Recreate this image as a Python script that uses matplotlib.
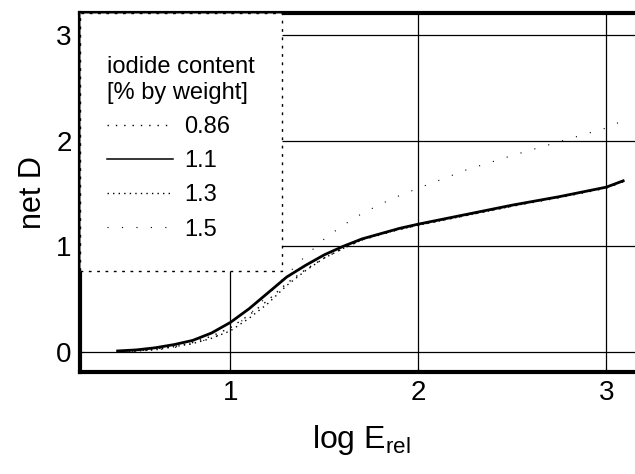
import matplotlib
matplotlib.use("Agg")
import matplotlib.pyplot as plt
from matplotlib.patches import Rectangle

plt.rcParams['font.family'] = ['Liberation Sans', 'DejaVu Sans']

x = [0.40, 0.50, 0.60, 0.70, 0.80, 0.90, 1.00, 1.10, 1.20, 1.30, 1.40,
     1.50, 1.60, 1.70, 1.80, 1.90, 2.00, 2.25, 2.50, 2.75, 3.00, 3.09]
y_086 = [0.00, 0.01, 0.03, 0.05, 0.09, 0.15, 0.23, 0.35, 0.49, 0.65, 0.78,
         0.89, 0.98, 1.06, 1.11, 1.16, 1.20, 1.29, 1.38, 1.46, 1.55, 1.61]
y_11 = [0.01, 0.02, 0.04, 0.07, 0.11, 0.18, 0.28, 0.41, 0.56, 0.71, 0.82,
        0.92, 1.00, 1.07, 1.12, 1.17, 1.21, 1.30, 1.39, 1.47, 1.56, 1.62]
y_13 = [0.00, 0.01, 0.02, 0.05, 0.08, 0.13, 0.20, 0.32, 0.46, 0.63, 0.77,
        0.89, 0.98, 1.06, 1.12, 1.16, 1.20, 1.29, 1.38, 1.47, 1.56, 1.62]
y_15 = [0.00, 0.01, 0.02, 0.04, 0.08, 0.13, 0.21, 0.35, 0.54, 0.73, 0.91,
        1.07, 1.20, 1.31, 1.40, 1.48, 1.55, 1.72, 1.86, 1.99, 2.12, 2.19]
labels = ["0.86", "1.1", "1.3", "1.5"]
xticks = [1, 2, 3]
yticks = [0, 1, 2, 3]

fig = plt.figure(figsize=(6.35, 4.74), dpi=100)
ax = fig.add_axes([0.126, 0.215, 0.885, 0.758])

ax.plot(x, y_086, color='black', lw=1.0, linestyle=(0, (1, 5)), label=labels[0])
ax.plot(x, y_11, color='black', lw=2.0, linestyle='-', label=labels[1])
ax.plot(x, y_13, color='black', lw=1.0, linestyle=(0, (1, 3)), label=labels[2])
ax.plot(x, y_15, color='black', lw=0.8, linestyle=(0, (1, 12)), label=labels[3])

ax.set_xlim(0.2, 3.19)
ax.set_ylim(-0.19, 3.21)
ax.set_xticks(xticks)
ax.set_yticks(yticks)
ax.grid(True, color='black', lw=0.9)
ax.set_axisbelow(True)
ax.tick_params(direction='in', length=3, labelsize=20, pad=6)
for s in ['left', 'bottom', 'top']:
    ax.spines[s].set_linewidth(3)
ax.spines['right'].set_visible(False)

ax.set_xlabel(r'log E$_{\mathregular{rel}}$', fontsize=23, labelpad=12)
ax.set_ylabel('net D', fontsize=22, labelpad=6)

# legend box (white, dotted border)
box = Rectangle((0.0, 0.281), 0.3594, 0.719, transform=ax.transAxes,
                facecolor='white', edgecolor='black', lw=1.0,
                linestyle=(0, (2, 4)), zorder=4)
ax.add_patch(box)

leg = ax.legend(loc='upper left', bbox_to_anchor=(0.0, 0.955),
                title='iodide content\n[% by weight]', alignment='left',
                fontsize=17, title_fontsize=17, handlelength=2.8,
                handletextpad=0.45, labelspacing=0.52, borderpad=1.15,
                borderaxespad=0.0, frameon=False)
leg.set_zorder(5)
leg.legend_handles[1].set_linewidth(1.1)

fig.savefig('out.png', dpi=100)
